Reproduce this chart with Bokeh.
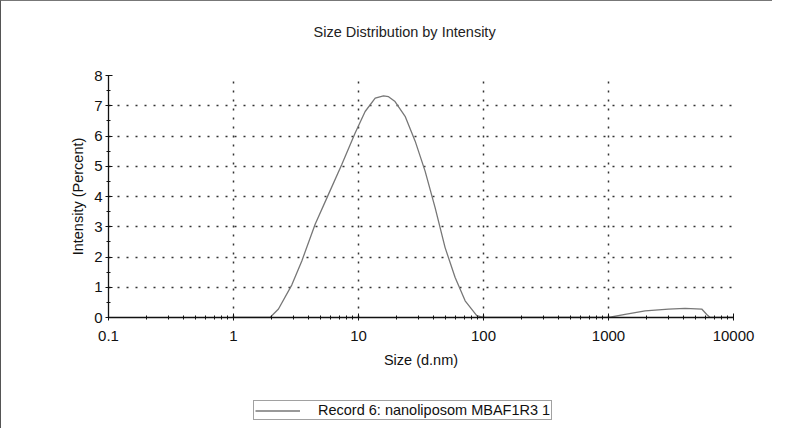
from bokeh.plotting import figure
from bokeh.layouts import column
from bokeh.models import Range1d, FixedTicker, Legend, LegendItem, Title
from bokeh.embed import file_html
from bokeh.resources import INLINE

# ---- data ----
size_nm = [1.0, 1.96, 2.29, 2.93, 3.52, 4.5, 5.75, 7.35, 9.4, 11.3, 13.6, 15.85,
           17.4, 19.6, 23.6, 28.4, 34.1, 41.0, 49.3, 59.3, 71.3, 88.3, 100, 500,
           1000, 1358, 1963, 3020, 4100, 5570, 6110, 6500, 10000]
intensity = [0, 0, 0.28, 1.08, 1.87, 3.08, 4.07, 5.06, 6.1, 6.81, 7.25, 7.33,
             7.30, 7.14, 6.65, 5.83, 4.84, 3.63, 2.31, 1.32, 0.55, 0.06, 0, 0,
             0, 0.1, 0.22, 0.28, 0.3, 0.28, 0.1, 0, 0]
x_ticks = [0.1, 1, 10, 100, 1000, 10000]
x_tick_labels = ["0.1", "1", "10", "100", "1000", "10000"]
y_ticks = [0, 1, 2, 3, 4, 5, 6, 7, 8]
title_text = "Size Distribution by Intensity"
x_label = "Size (d.nm)"
y_label = "Intensity (Percent)"
legend_label = "Record 6: nanoliposom MBAF1R3 1"

FONT = "Liberation Sans"
W = 772
H1 = 380
H2 = 48

p = figure(width=W, height=H1, x_axis_type="log",
           x_range=Range1d(0.1, 10000), y_range=Range1d(0, 8),
           output_backend="svg", toolbar_location=None,
           min_border_left=107, min_border_right=W - 107 - 625,
           min_border_top=73, min_border_bottom=H1 - 73 - 243,
           background_fill_color="white", border_fill_color="white")
p.styles = {"border-top": "1px solid #777", "border-left": "1px solid #555"}
p.outline_line_color = None

# blank spacer between the frame and the title (pushes the title up)
p.add_layout(Title(text="\u00a0", text_font_size="12px", standoff=0,
                   text_color="white"), "above")

# title
p.title.text = title_text
p.title.align = "left"
p.title.offset = 205
p.title.text_font = FONT
p.title.text_font_size = "14.5px"
p.title.text_font_style = "normal"
p.title.text_color = "#222"
p.title.standoff = 40

# ticks
minor_x = []
for d in [0.1, 1, 10, 100, 1000]:
    for k in range(2, 10):
        minor_x.append(d * k)
p.xaxis.ticker = FixedTicker(ticks=x_ticks, minor_ticks=minor_x)
p.xaxis.major_label_overrides = {t: l for t, l in zip(x_ticks, x_tick_labels)}
p.yaxis.ticker = FixedTicker(ticks=y_ticks, minor_ticks=[v + 0.5 for v in y_ticks[:-1]])

for ax in (p.xaxis, p.yaxis):
    ax.axis_line_color = "#111"
    ax.axis_line_width = 1.3
    ax.major_tick_line_color = "#111"
    ax.minor_tick_line_color = "#111"
    ax.major_tick_in = 4
    ax.major_tick_out = 3
    ax.minor_tick_in = 2
    ax.minor_tick_out = 2
    ax.major_label_text_font = FONT
    ax.major_label_text_font_size = "15px"
    ax.major_label_text_color = "#111"
    ax.axis_label_text_font = FONT
    ax.axis_label_text_font_size = "14.5px"
    ax.axis_label_text_font_style = "normal"
    ax.axis_label_text_color = "#111"

p.xaxis.axis_label = x_label
p.yaxis.axis_label = y_label
p.xaxis.major_label_standoff = 10
p.xaxis.axis_label_standoff = 8
p.yaxis.major_label_standoff = 3
p.yaxis.axis_label_standoff = 5

# grid
for g in (p.xgrid, p.ygrid):
    g.grid_line_color = "#333"
    g.grid_line_width = 1.5
    g.grid_line_dash = "2 7"
p.xgrid.ticker = FixedTicker(ticks=x_ticks)
p.ygrid.ticker = FixedTicker(ticks=y_ticks)

p.line(size_nm, intensity, line_color="#777", line_width=1.3)

# legend panel (separate strip below the chart)
p2 = figure(width=W, height=H2, x_range=Range1d(-2, -1), y_range=Range1d(0, 1),
            output_backend="svg", toolbar_location=None,
            x_axis_location=None, y_axis_location=None,
            min_border_left=0, min_border_right=0, min_border_top=0, min_border_bottom=0,
            background_fill_color="white", border_fill_color="white")
p2.styles = {"border-left": "1px solid #555"}
p2.outline_line_color = None
p2.xgrid.visible = False
p2.ygrid.visible = False
r2 = p2.line(size_nm, intensity, line_color="#777", line_width=1.3)

legend = Legend(items=[LegendItem(label=legend_label, renderers=[r2])],
                location=(145, 8), orientation="vertical",
                label_text_font=FONT, label_text_font_size="14.5px",
                label_text_color="#111", glyph_width=45, glyph_height=13,
                label_height=13, label_standoff=18, padding=1, margin=0,
                spacing=0, border_line_color="#444", border_line_width=1,
                background_fill_alpha=1.0)
p2.add_layout(legend, "center")

layout = column(p, p2, spacing=0)
open("out.html", "w").write(file_html(layout, INLINE))
